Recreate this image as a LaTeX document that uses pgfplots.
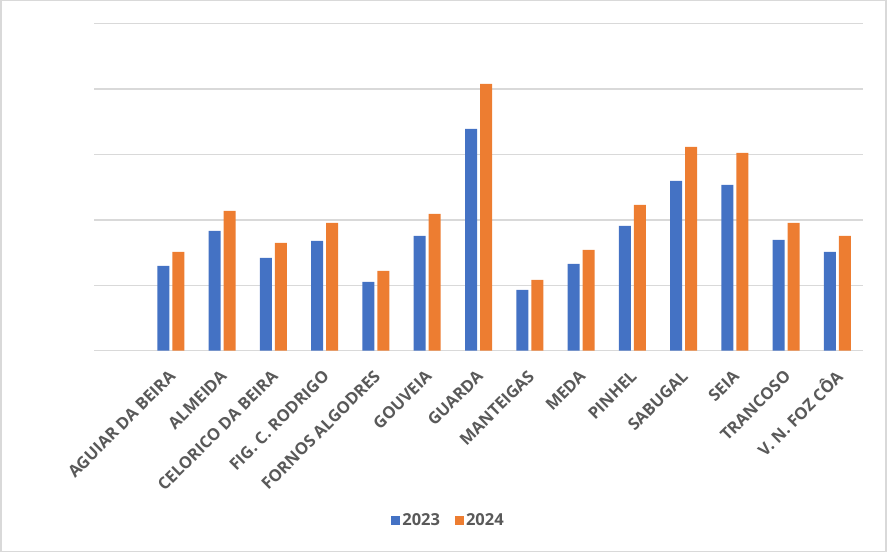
\documentclass[border=0pt]{standalone}
\usepackage{pgfplots}
\pgfplotsset{compat=1.18}
\usepackage{fontspec}
\setmainfont{Open Sans}
\definecolor{xblue}{RGB}{68,114,196}
\definecolor{xorange}{RGB}{237,125,49}
\definecolor{xgrid}{RGB}{217,217,217}
\definecolor{xtext}{RGB}{89,89,89}
\begin{document}
\begin{tikzpicture}
\path[use as bounding box] (0,0) rectangle (888bp,552bp);
\draw[xgrid, line width=1.5bp] (0.75bp,0.75bp) rectangle (886bp,551.25bp);
\begin{axis}[
  at={(94bp,201.3bp)}, anchor=south west,
  scale only axis, width=769bp, height=327bp,
  xmin=-0.5, xmax=14.5, ymin=0, ymax=5,
  axis line style={draw=none},
  ytick={0,1,2,3,4,5}, yticklabels={}, ymajorgrids,
  grid style={xgrid, line width=1.5bp},
  major tick length=0pt,
  xtick={1,...,14},
  xticklabels={AGUIAR DA BEIRA, ALMEIDA, CELORICO DA BEIRA, FIG. C. RODRIGO, FORNOS ALGODRES, GOUVEIA, GUARDA, MANTEIGAS, MEDA, PINHEL, SABUGAL, SEIA, TRANCOSO, V. N. FOZ CÔA},
  xticklabel style={rotate=45, anchor=east, text=xtext, font=\bfseries\fontsize{16.5bp}{18bp}\selectfont, inner sep=1bp, xshift=-14bp, yshift=-17bp},
  ybar, bar width=12bp,
  legend style={draw=none, legend columns=2, at={(axis description cs:0.461,-0.52)}, anchor=center, font=\bfseries\fontsize{16.5bp}{18bp}\selectfont, text=xtext, /tikz/every even column/.append style={column sep=13bp}},
  legend image code/.code={\fill[#1] (0bp,-4.5bp) rectangle (9bp,4.5bp);},
]
\addplot[fill=xblue, draw=none, bar shift=-7.5bp] coordinates {
(1,1.296) (2,1.832) (3,1.418) (4,1.679) (5,1.051) (6,1.755) (7,3.393)
(8,0.929) (9,1.327) (10,1.908) (11,2.597) (12,2.536) (13,1.694) (14,1.510)};
\addplot[fill=xorange, draw=none, bar shift=7.5bp] coordinates {
(1,1.510) (2,2.138) (3,1.648) (4,1.954) (5,1.219) (6,2.092) (7,4.078)
(8,1.082) (9,1.541) (10,2.230) (11,3.117) (12,3.026) (13,1.954) (14,1.755)};
\legend{2023,2024}
\end{axis}
\end{tikzpicture}
\end{document}
